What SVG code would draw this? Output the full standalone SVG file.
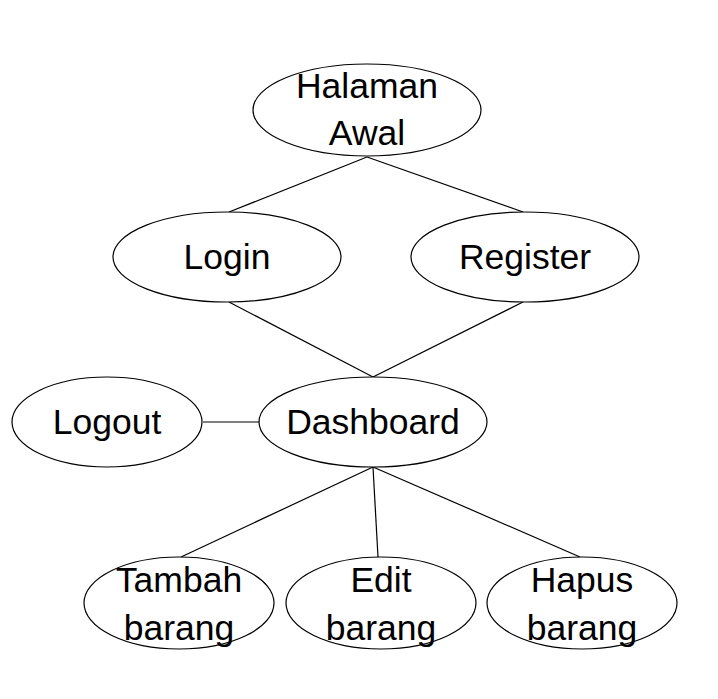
<svg xmlns="http://www.w3.org/2000/svg" width="718" height="699" viewBox="0 0 718 699">
<style>
.n ellipse{fill:#fff;stroke:#000;stroke-width:1.2}
.n text{font-family:"Liberation Sans",Arial,sans-serif;font-size:35.5px;fill:#000;text-anchor:middle}
#edges line{stroke:#000;stroke-width:1.2}
</style>
<rect width="718" height="699" fill="#fff"/>
<g id="edges">
<line x1="367" y1="157" x2="229" y2="212"/>
<line x1="367" y1="157" x2="523" y2="212"/>
<line x1="229" y1="302" x2="373" y2="377"/>
<line x1="523" y1="302" x2="373" y2="377"/>
<line x1="203" y1="422" x2="259" y2="422"/>
<line x1="373" y1="467" x2="181" y2="557"/>
<line x1="373" y1="467" x2="378" y2="557"/>
<line x1="373" y1="467" x2="580" y2="557"/>
</g>
<g id="halaman-awal" class="n"><ellipse cx="367" cy="110" rx="114" ry="46"/><text x="367" y="98">Halaman</text><text x="367" y="145">Awal</text></g>
<g id="login" class="n"><ellipse cx="227" cy="257" rx="114" ry="45"/><text x="227" y="269">Login</text></g>
<g id="register" class="n"><ellipse cx="525" cy="257" rx="114" ry="45"/><text x="525" y="269">Register</text></g>
<g id="logout" class="n"><ellipse cx="107" cy="422" rx="95" ry="45"/><text x="107" y="434">Logout</text></g>
<g id="dashboard" class="n"><ellipse cx="373" cy="422" rx="114" ry="45"/><text x="373" y="434">Dashboard</text></g>
<g id="tambah-barang" class="n"><ellipse cx="179" cy="603" rx="95" ry="46"/><text x="179" y="592">Tambah</text><text x="179" y="640">barang</text></g>
<g id="edit-barang" class="n"><ellipse cx="381" cy="603" rx="95" ry="46"/><text x="381" y="592">Edit</text><text x="381" y="640">barang</text></g>
<g id="hapus-barang" class="n"><ellipse cx="582" cy="603" rx="95" ry="46"/><text x="582" y="592">Hapus</text><text x="582" y="640">barang</text></g>
</svg>
